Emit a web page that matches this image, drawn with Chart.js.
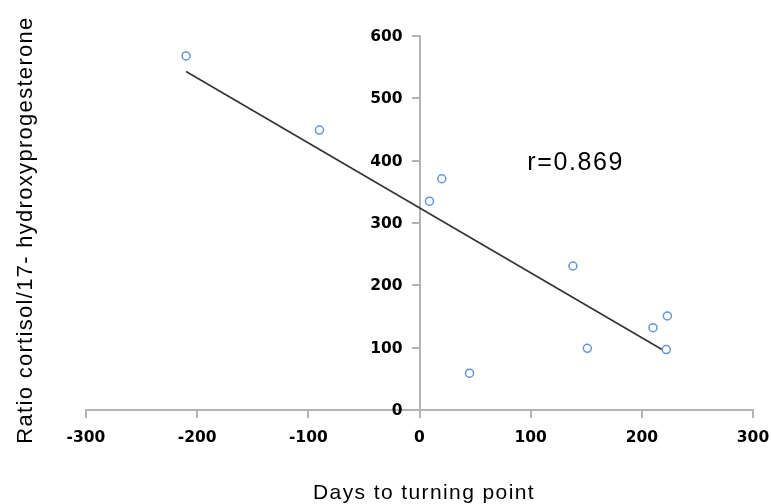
<!DOCTYPE html>
<html>
<head>
<meta charset="utf-8">
<script src="https://cdn.jsdelivr.net/npm/chart.js@4/dist/chart.umd.min.js"></script>
<style>
  html, body { margin: 0; padding: 0; background: #fff; }
  #wrap { width: 771px; height: 504px; }
</style>
</head>
<body>
<div id="wrap"><canvas id="c" width="771" height="504"></canvas></div>
<script>
const daysToTurningPoint = [-210, -90, 9, 20, 45, 138, 151, 210, 222, 223];
const cortisolRatio = [568, 449, 335, 371, 59, 231, 99, 132, 97, 151];
const trendX = [-210, 222];
const trendY = [543, 93];
const xTicks = [-300, -200, -100, 0, 100, 200, 300];
const yTicks = [0, 100, 200, 300, 400, 500, 600];
const xTitle = 'Days to turning point';
const yTitle = 'Ratio cortisol/17- hydroxyprogesterone';
const annotationText = 'r=0.869';
const annotationPos = [97, 385];

const points = daysToTurningPoint.map((x, i) => ({ x: x, y: cortisolRatio[i] }));
const trend = trendX.map((x, i) => ({ x: x, y: trendY[i] }));

const axisColor = '#b4b4b4';
const tickFont = { family: 'DejaVu Sans', size: 15.5, weight: 'bold' };

const textPlugin = {
  id: 'texts',
  afterDraw(chart) {
    const ctx = chart.ctx;
    const xs = chart.scales.x, ys = chart.scales.y;

    // y tick labels, left of the centred y axis
    ctx.save();
    ctx.fillStyle = '#000';
    ctx.font = 'bold 15.5px "DejaVu Sans"';
    ctx.textAlign = 'right';
    ctx.textBaseline = 'middle';
    const axisX = xs.getPixelForValue(0);
    ys.ticks.forEach(t => {
      ctx.fillText(String(t.value), axisX - 17, ys.getPixelForValue(t.value) + 1);
    });
    ctx.restore();

    // y title
    ctx.save();
    ctx.fillStyle = '#000';
    ctx.font = '22px "Liberation Sans", Arial, sans-serif';
    try { ctx.letterSpacing = '1.3px'; } catch (e) {}
    ctx.textAlign = 'center';
    ctx.textBaseline = 'alphabetic';
    ctx.translate(31.5, 230);
    ctx.rotate(-Math.PI / 2);
    ctx.fillText(yTitle, 0, 0);
    ctx.restore();

    // x title
    ctx.save();
    ctx.fillStyle = '#000';
    ctx.font = '21px "Liberation Sans", Arial, sans-serif';
    try { ctx.letterSpacing = '1.4px'; } catch (e) {}
    ctx.textAlign = 'center';
    ctx.textBaseline = 'alphabetic';
    ctx.fillText(xTitle, 424, 499);
    ctx.restore();

    // annotation
    ctx.save();
    ctx.fillStyle = '#000';
    ctx.font = '25px "Liberation Sans", Arial, sans-serif';
    try { ctx.letterSpacing = '1.6px'; } catch (e) {}
    ctx.textAlign = 'left';
    ctx.textBaseline = 'alphabetic';
    ctx.fillText(annotationText, xs.getPixelForValue(annotationPos[0]), ys.getPixelForValue(annotationPos[1]));
    ctx.restore();
  }
};

const noPad = (s) => { s.paddingLeft = 0; s.paddingRight = 0; s.paddingTop = 0; s.paddingBottom = 0; };

new Chart(document.getElementById('c'), {
  type: 'scatter',
  data: {
    datasets: [
      {
        label: 'points',
        data: points,
        pointRadius: 4,
        pointHoverRadius: 4,
        pointBorderWidth: 1.5,
        pointBorderColor: '#6595d8',
        pointBackgroundColor: '#ffffff',
        showLine: false,
        order: 1
      },
      {
        label: 'trend',
        data: trend,
        showLine: true,
        borderColor: '#333333',
        borderWidth: 1.6,
        pointRadius: 0,
        fill: false,
        order: 2
      }
    ]
  },
  options: {
    responsive: false,
    animation: false,
    devicePixelRatio: 1,
    layout: { padding: { left: 86, right: 18, top: 36, bottom: 94 } },
    plugins: { legend: { display: false }, tooltip: { enabled: false } },
    scales: {
      x: {
        type: 'linear',
        min: -300, max: 300,
        position: { y: 0 },
        afterBuildTicks: (s) => { s.ticks = xTicks.map(v => ({ value: v })); },
        afterFit: noPad,
        ticks: { font: tickFont, color: '#000', padding: 12, maxRotation: 0, autoSkip: false },
        grid: { drawOnChartArea: false, drawTicks: true, tickLength: 7, color: axisColor, lineWidth: 2 },
        border: { display: true, color: axisColor, width: 2 }
      },
      y: {
        type: 'linear',
        min: 0, max: 600,
        position: { x: 0 },
        afterBuildTicks: (s) => { s.ticks = yTicks.map(v => ({ value: v })); },
        afterFit: noPad,
        ticks: { display: false, autoSkip: false },
        grid: { drawOnChartArea: false, drawTicks: true, tickLength: 7, color: axisColor, lineWidth: 2 },
        border: { display: true, color: axisColor, width: 2 }
      }
    }
  },
  plugins: [textPlugin]
});
</script>
</body>
</html>
